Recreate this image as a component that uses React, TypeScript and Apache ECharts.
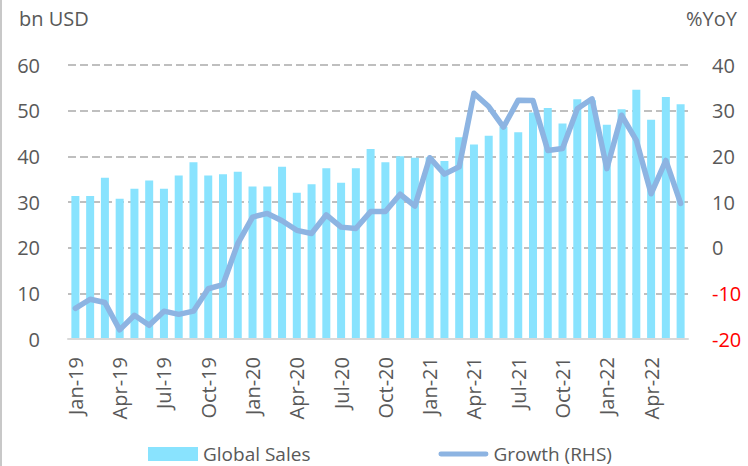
import React, { useEffect, useRef } from "react";
import * as echarts from "echarts";

const months = [
  "Jan-19","Feb-19","Mar-19","Apr-19","May-19","Jun-19","Jul-19","Aug-19","Sep-19","Oct-19","Nov-19","Dec-19",
  "Jan-20","Feb-20","Mar-20","Apr-20","May-20","Jun-20","Jul-20","Aug-20","Sep-20","Oct-20","Nov-20","Dec-20",
  "Jan-21","Feb-21","Mar-21","Apr-21","May-21","Jun-21","Jul-21","Aug-21","Sep-21","Oct-21","Nov-21","Dec-21",
  "Jan-22","Feb-22","Mar-22","Apr-22","May-22","Jun-22",
];

const globalSales = [
  31.3, 31.3, 35.3, 30.7, 32.9, 34.7, 32.9, 35.8, 38.7, 35.8, 36.1, 36.6,
  33.4, 33.4, 37.7, 32.0, 33.9, 37.4, 34.2, 37.4, 41.6, 38.7, 40.0, 39.7,
  39.8, 39.0, 44.2, 42.6, 44.5, 46.5, 45.3, 49.6, 50.6, 47.2, 52.5, 52.3,
  46.9, 50.3, 54.6, 48.0, 53.0, 51.4,
];

const growthRHS = [
  -13.3, -11.3, -12.0, -18.0, -14.8, -17.0, -13.9, -14.6, -13.9, -9.0, -8.1, 0.9,
  6.7, 7.5, 5.9, 3.8, 3.1, 7.2, 4.5, 4.2, 7.9, 7.9, 11.7, 9.1,
  19.7, 16.1, 17.7, 33.8, 30.9, 26.4, 32.3, 32.2, 21.3, 21.7, 30.4, 32.6,
  17.3, 29.0, 23.5, 11.8, 19.1, 9.7,
];

const FONT = "'Open Sans', sans-serif";
const GREY = "#595959";
const LINE_ICON = "path://M2.5,0 L49.5,0 A2.5,2.5 0 0 1 49.5,5 L2.5,5 A2.5,2.5 0 0 1 2.5,0 Z";

export default function App() {
  const ref = useRef<HTMLDivElement>(null);
  useEffect(() => {
    if (!ref.current) return;
    const chart = echarts.init(ref.current, undefined, { renderer: "svg" });
    chart.setOption({
      animation: false,
      backgroundColor: "#ffffff",
      textStyle: { fontFamily: FONT },
      grid: { left: 68, right: 60, top: 65, bottom: 127, containLabel: false },
      legend: {
        left: 143,
        top: 439,
        itemWidth: 50,
        itemHeight: 14,
        itemGap: 128,
        textStyle: { fontFamily: FONT, fontSize: 19, color: GREY, lineHeight: 20 },
        data: [
          { name: "Global Sales", icon: "rect" },
          { name: "Growth (RHS)", icon: LINE_ICON },
        ],
      },
      xAxis: {
        type: "category",
        data: months,
        axisLine: { show: true, lineStyle: { color: "#D9D9D9", width: 2 } },
        axisTick: { show: false },
        axisLabel: {
          interval: 2,
          rotate: 90,
          margin: 18,
          fontFamily: FONT,
          fontSize: 20,
          color: GREY,
        },
        z: 5,
      },
      yAxis: [
        {
          type: "value",
          min: 0,
          max: 60,
          interval: 10,
          axisLine: { show: false },
          axisTick: { show: false },
          axisLabel: { margin: 28, fontFamily: FONT, fontSize: 20, color: GREY },
          splitLine: {
            show: true,
            lineStyle: { color: "#BFBFBF", width: 2, type: [8, 4] },
          },
        },
        {
          type: "value",
          min: -20,
          max: 40,
          interval: 10,
          position: "right",
          axisLine: { show: false },
          axisTick: { show: false },
          splitLine: { show: false },
          axisLabel: {
            margin: 24,
            fontFamily: FONT,
            fontSize: 20,
            color: GREY,
            formatter: (v: number) => (v < 0 ? `{neg|${v}}` : `${v}`),
            rich: { neg: { color: "#FF0000", fontFamily: FONT, fontSize: 20 } },
          },
        },
      ],
      series: [
        {
          name: "Global Sales",
          type: "bar",
          data: globalSales,
          barWidth: 8,
          itemStyle: { color: "#89E3FE" },
          yAxisIndex: 0,
        },
        {
          name: "Growth (RHS)",
          type: "line",
          data: growthRHS,
          yAxisIndex: 1,
          symbol: "none",
          showSymbol: false,
          lineStyle: { color: "#8DB4E2", width: 5.5, cap: "round", join: "round" },
          itemStyle: { color: "#8DB4E2" },
          z: 3,
        },
      ],
      graphic: [
        { type: "rect", left: 0, top: 0, shape: { width: 2, height: 466 }, style: { fill: "#C8C8C8" } },
        {
          type: "text",
          x: 19,
          y: 18,
          style: { text: "bn USD", fontFamily: FONT, fontSize: 20, fill: GREY, textVerticalAlign: "middle" },
        },
        {
          type: "text",
          x: 686,
          y: 18,
          style: { text: "%YoY", fontFamily: FONT, fontSize: 20, fill: GREY, textVerticalAlign: "middle" },
        },
      ],
    });
    return () => chart.dispose();
  }, []);
  return (
    <div
      ref={ref}
      style={{ position: "absolute", left: 0, top: 0, width: 748, height: 466 }}
    />
  );
}
